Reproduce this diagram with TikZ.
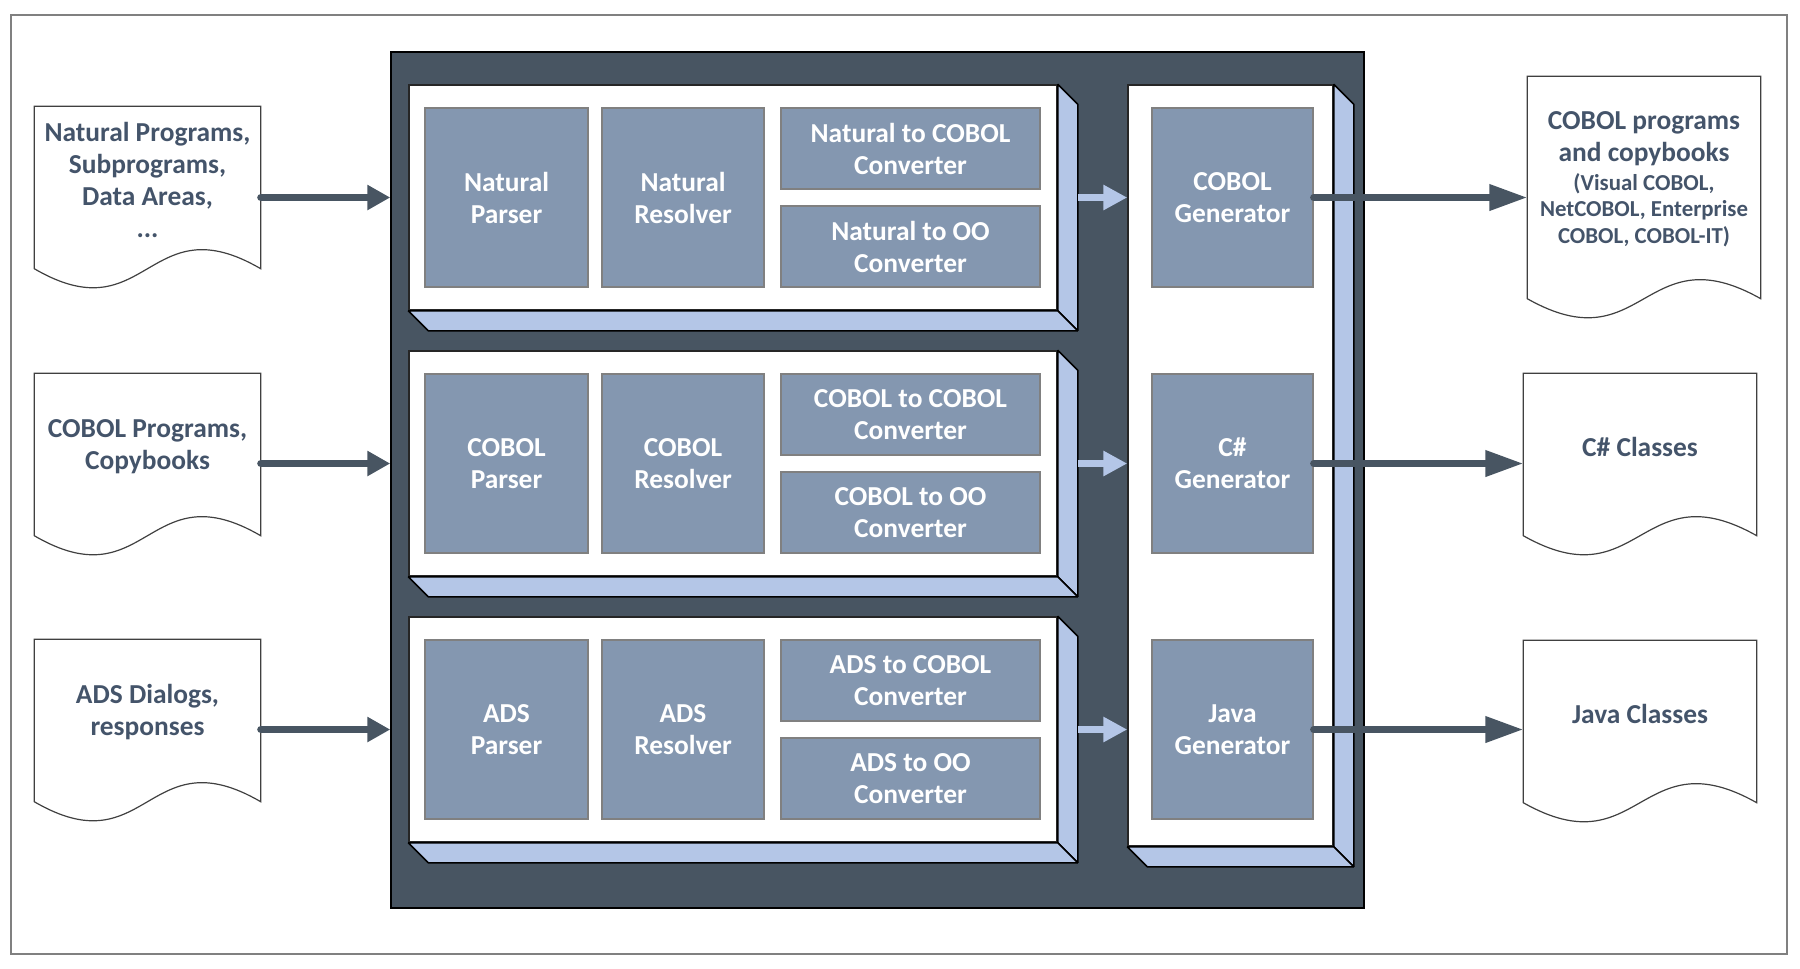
\documentclass[tikz,border=0pt]{standalone}
\usepackage{fontspec}
\setmainfont{Carlito}[BoldFont={Carlito Bold}]
\usetikzlibrary{arrows.meta,calc}

\definecolor{slate}{HTML}{485562}
\definecolor{boxgray}{HTML}{8497B0}
\definecolor{edgeblue}{HTML}{B4C6E7}
\definecolor{inktext}{HTML}{44546A}

\newcommand\smalltext{\fontsize{6.5}{7.7}\selectfont}

\tikzset{
  panel/.style={draw=black!85, fill=white, line width=0.15mm, inner sep=0pt},
  sideface/.style={draw=black, fill=edgeblue, line width=0.15mm, line join=bevel},
  subbox/.style={draw=black!50, fill=boxgray, line width=0.12mm, text=white,
    align=center, inner sep=0pt, font=\bfseries\fontsize{7.8}{9.1}\selectfont},
  docbox/.style={inner sep=0pt, minimum width=22.5mm},
  doctext/.style={text=inktext, align=center, yshift=0.8mm,
    font=\bfseries\fontsize{7.8}{9.1}\selectfont},
  docline/.style={draw=black!75, line width=0.12mm},
  flow/.style={draw=slate, line width=0.7mm, line cap=round},
  lightflow/.style={draw=edgeblue, line width=0.65mm,
    -{Triangle[length=2.4mm,width=2.4mm]}}
}

\begin{document}
\begin{tikzpicture}[x=0.1mm,y=-0.1mm]
      \newcommand\panelside[1]{
        \draw[sideface] (#1.north east) -- ++(20,20) -- ($(#1.south east)+(20,20)$) -- (#1.south east) -- cycle;
        \draw[sideface] (#1.south west) -- (#1.south east) -- ++(20,20) -- ($(#1.south west)+(20,20)$) -- cycle;
      }
      \newcommand\docoutline[1]{
        \draw[docline] (#1.north west) -- (#1.north east) -- (#1.south east)
          .. controls ($(#1.south)+(0,-66)$) and ($(#1.south)+(0,66)$) .. (#1.south west) -- cycle;
      }

      \useasboundingbox (0,0) rectangle (1800,968);
      \draw[black!50, line width=0.15mm] (11,15) rectangle (1787,954);

      \node[draw=black, fill=slate, line width=0.15mm, minimum width=97.3mm, minimum height=85.6mm] (engine) at (877.5,480) {};

      \node[panel, minimum width=20.5mm, minimum height=76.1mm] (backend) at (1230.5,465.5) {};
      \panelside{backend}

      %%%%%%%%%%%%%%%%%%%%%%%%%%%%%%%%%%%%

      \foreach \i/\lang in {1/Natural,2/COBOL,3/ADS}{
        \pgfmathsetmacro\T{85+266*(\i-1)}
        \node[panel, minimum width=64.8mm, minimum height=22.5mm] (stage\i) at (733,\T+112.5) {};
        \panelside{stage\i}
        \node[subbox, minimum width=16.3mm, minimum height=17.9mm] (parser\i) at (506.5,\T+112.5) {\lang\\Parser};
        \node[subbox, minimum width=16.2mm, minimum height=17.9mm] (resolver\i) at (683,\T+112.5) {\lang\\Resolver};
        \node[subbox, minimum width=25.9mm, minimum height=8.1mm] (tocobol\i) at (910.5,\T+63.5) {\lang{} to COBOL\\Converter};
        \node[subbox, minimum width=25.9mm, minimum height=8.1mm] (tooo\i) at (910.5,\T+161.5) {\lang{} to OO\\Converter};
      }

      \foreach \i/\lang in {1/COBOL,2/C\#,3/Java}{
        \pgfmathsetmacro\T{85+266*(\i-1)}
        \node[subbox, minimum width=16.1mm, minimum height=17.9mm] (gen\i) at (1232.5,\T+112.5) {\lang\\Generator};
      }

      %%%%%%%%%%%%%%%%%%%%%%%%%%%%%%%%%%%%

      \node[docbox, minimum height=16.1mm, label={[doctext]center:{Natural Programs,\\Subprograms,\\Data Areas,\\...}}] (in1) at (147.5,187.5) {};
      \node[docbox, minimum height=16.1mm, label={[doctext]center:{COBOL Programs,\\Copybooks}}] (in2) at (147.5,454.5) {};
      \node[docbox, minimum height=16.1mm, label={[doctext]center:{ADS Dialogs,\\responses}}] (in3) at (147.5,720.5) {};

      \node[docbox, minimum width=23.2mm, minimum height=22.1mm, label={[doctext]center:{COBOL programs\\and copybooks\\[-1pt]
          \smalltext(Visual COBOL,\\[-1.5pt]\smalltext NetCOBOL, Enterprise\\[-1.5pt]\smalltext COBOL, COBOL-IT)}}] (out1) at (1644,187.5) {};
      \node[docbox, minimum width=23.2mm, minimum height=16.1mm, label={[doctext]center:{C\# Classes}}] (out2) at (1640,454.5) {};
      \node[docbox, minimum width=23.2mm, minimum height=16.1mm, label={[doctext]center:{Java Classes}}] (out3) at (1640,721.5) {};

      \foreach \d in {in1,in2,in3,out1,out2,out3}{
        \docoutline{\d}
      }

      %%%%%%%%%%%%%%%%%%%%%%%%%%%%%%%%%%%%

      \foreach \i in {1,2,3}{
        \draw[flow, -{Triangle[length=2.3mm,width=2.4mm]}] (in\i.east |- stage\i) -- (stage\i -| engine.west);
        \draw[lightflow] (stage\i.east) ++(20,0) -- (stage\i -| backend.west);
        \draw[flow, -{Triangle[length=3.8mm,width=2.5mm]}] (gen\i.east) -- (gen\i -| out\i.west);
      }

\end{tikzpicture}
\end{document}
